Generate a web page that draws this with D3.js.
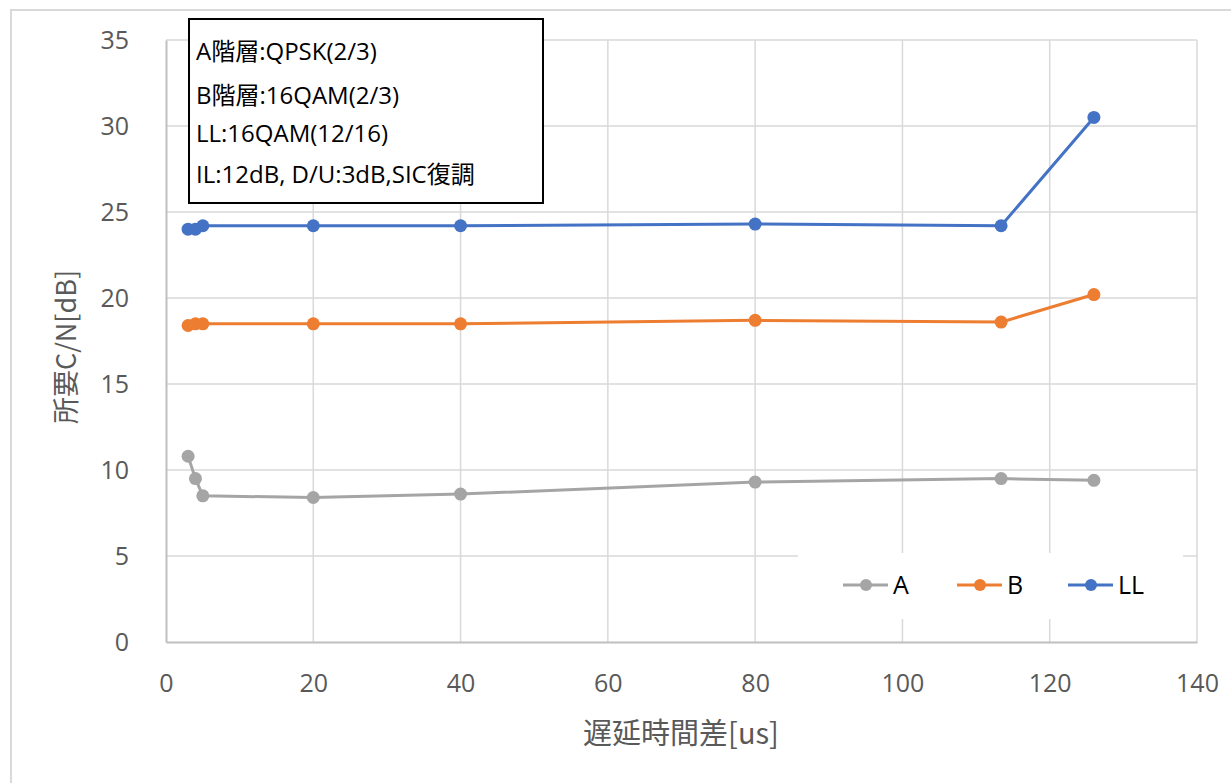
<!DOCTYPE html>
<html>
<head>
<meta charset="utf-8">
<script src="https://cdn.jsdelivr.net/npm/d3@7"></script>
<style>
  html, body { margin: 0; padding: 0; background: #fff; }
  svg { display: block; }
</style>
</head>
<body>
<svg id="chart" width="1231" height="783"></svg>
<script>
// Delay difference [us] at each measurement
const delays = [3, 4, 5, 20, 40, 80, 113.4, 126];
// Required C/N [dB] per layer
const seriesA  = [10.8, 9.5, 8.5, 8.4, 8.6, 9.3, 9.5, 9.4];
const seriesB  = [18.4, 18.5, 18.5, 18.5, 18.5, 18.7, 18.6, 20.2];
const seriesLL = [24.0, 24.0, 24.2, 24.2, 24.2, 24.3, 24.2, 30.5];
const seriesNames = ["A", "B", "LL"];
const xTicks = [0, 20, 40, 60, 80, 100, 120, 140];
const yTicks = [0, 5, 10, 15, 20, 25, 30, 35];
const noteLines = [
  "A階層:QPSK(2/3)",
  "B階層:16QAM(2/3)",
  "LL:16QAM(12/16)",
  "IL:12dB, D/U:3dB,SIC復調"
];

const colors = { A: "#a5a5a5", B: "#ed7d31", LL: "#4472c4" };
const series = [
  { name: "A", values: seriesA },
  { name: "B", values: seriesB },
  { name: "LL", values: seriesLL }
];

const svg = d3.select("#chart");
const plot = { left: 166, right: 1197, top: 40, bottom: 642 };
const latinFont = "'Open Sans', 'Noto Sans', sans-serif";
const cjkFont = "'Noto Sans CJK JP', 'Noto Sans', sans-serif";
const mixedFont = "'Open Sans', 'Noto Sans CJK JP', sans-serif";

// Outer chart frame
svg.append("rect")
  .attr("x", 11).attr("y", 10)
  .attr("width", 1300).attr("height", 900)
  .attr("fill", "none").attr("stroke", "#d9d9d9").attr("stroke-width", 2);

const x = d3.scaleLinear().domain([0, 140]).range([plot.left, plot.right]);
const y = d3.scaleLinear().domain([0, 35]).range([plot.bottom, plot.top]);

// Gridlines
const grid = svg.append("g");
grid.selectAll("line.h").data(yTicks.filter(d => d > 0)).join("line")
  .attr("x1", plot.left).attr("x2", plot.right)
  .attr("y1", d => y(d)).attr("y2", d => y(d))
  .attr("stroke", "#d9d9d9").attr("stroke-width", 1.5);
grid.selectAll("line.v").data(xTicks.filter(d => d > 0)).join("line")
  .attr("x1", d => x(d)).attr("x2", d => x(d))
  .attr("y1", plot.top).attr("y2", plot.bottom)
  .attr("stroke", "#d9d9d9").attr("stroke-width", 1.5);

// Axes
const xAxis = svg.append("g")
  .attr("transform", `translate(0,${plot.bottom})`)
  .call(d3.axisBottom(x).tickValues(xTicks).tickSize(0).tickPadding(30));
const yAxis = svg.append("g")
  .attr("transform", `translate(${plot.left},0)`)
  .call(d3.axisLeft(y).tickValues(yTicks).tickSize(0).tickPadding(37));
[xAxis, yAxis].forEach(g => {
  g.select(".domain").attr("stroke", "#bfbfbf").attr("stroke-width", 2);
  g.selectAll("text")
    .attr("fill", "#595959")
    .style("font-family", latinFont)
    .style("font-size", "25px");
});
xAxis.selectAll("text").attr("dy", "0.35em").attr("y", 41);

// Axis titles
svg.append("text")
  .attr("x", 681).attr("y", 744)
  .attr("text-anchor", "middle")
  .attr("fill", "#595959")
  .style("font-family", cjkFont)
  .style("font-size", "29px")
  .text("遅延時間差[us]");
svg.append("text")
  .attr("transform", `translate(76,${(plot.top + plot.bottom) / 2 + 6}) rotate(-90)`)
  .attr("text-anchor", "middle")
  .attr("fill", "#595959")
  .style("font-family", cjkFont)
  .style("font-size", "27px")
  .text("所要C/N[dB]");

// Legend background hides the grid beneath it
const legendBox = { x: 798, y: 553, w: 385, h: 66 };
svg.append("rect")
  .attr("x", legendBox.x).attr("y", legendBox.y)
  .attr("width", legendBox.w).attr("height", legendBox.h)
  .attr("fill", "#fff");

// Series lines and markers
const line = d3.line()
  .x((d, i) => x(delays[i]))
  .y(d => y(d));
const marks = svg.append("g");
series.forEach(s => {
  marks.append("path")
    .datum(s.values)
    .attr("d", line)
    .attr("fill", "none")
    .attr("stroke", colors[s.name])
    .attr("stroke-width", 3)
    .attr("stroke-linejoin", "round");
  marks.append("g").selectAll("circle").data(s.values).join("circle")
    .attr("cx", (d, i) => x(delays[i]))
    .attr("cy", d => y(d))
    .attr("r", 6.5)
    .attr("fill", colors[s.name]);
});

// Legend entries
const legendX = [843, 957, 1068];
const legendY = 585;
seriesNames.forEach((name, i) => {
  const g = svg.append("g").attr("transform", `translate(${legendX[i]},${legendY})`);
  g.append("line").attr("x1", 0).attr("x2", 45).attr("y1", 0).attr("y2", 0)
    .attr("stroke", colors[name]).attr("stroke-width", 3);
  g.append("circle").attr("cx", 23).attr("cy", 0).attr("r", 6).attr("fill", colors[name]);
  g.append("text").attr("x", 50).attr("y", 0).attr("dy", "0.36em")
    .attr("fill", "#000")
    .style("font-family", latinFont)
    .style("font-size", "25px")
    .text(name);
});

// Configuration note box
const note = svg.append("g");
note.append("rect")
  .attr("x", 189).attr("y", 19).attr("width", 354).attr("height", 184)
  .attr("fill", "#fff").attr("stroke", "#000").attr("stroke-width", 2);
const noteBaselines = [60, 104, 142, 183];
note.selectAll("text").data(noteLines).join("text")
  .attr("x", 196)
  .attr("y", (d, i) => noteBaselines[i])
  .attr("fill", "#000")
  .style("font-family", mixedFont)
  .style("font-size", "24px")
  .text(d => d);
</script>
</body>
</html>
